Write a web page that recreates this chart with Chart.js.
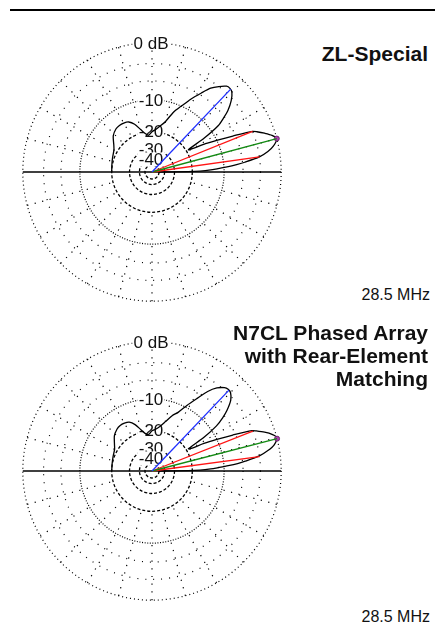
<!DOCTYPE html>
<html lang="en">

<head>
    <meta charset="UTF-8">
    <title>Elevation Patterns - ZL-Special vs N7CL Phased Array</title>
    <style>
        body {
            margin: 0;
            background: #fff;
            font-family: "Liberation Sans", Arial, sans-serif;
            color: #111;
        }

        #page {
            position: relative;
            width: 435px;
            height: 642px;
            overflow: hidden;
        }

        .rule {
            position: absolute;
            left: 10px;
            right: 0;
            top: 9px;
            height: 2px;
            background: #000;
        }

        canvas {
            position: absolute;
            left: 12px;
        }

        .title {
            position: absolute;
            right: 7px;
            font-weight: bold;
            font-size: 21px;
            line-height: 23px;
            text-align: right;
        }

        .freq {
            position: absolute;
            right: 5px;
            font-size: 16px;
            line-height: 16px;
        }
    </style>
</head>

<body>
    <div id="page">
        <div class="rule"></div>
        <canvas id="zlChart" width="280" height="280" style="top:32px"></canvas>
        <div class="title" style="top:42px">ZL-Special</div>
        <div class="freq" style="top:287px">28.5 MHz</div>

        <canvas id="n7clChart" width="280" height="280" style="top:331px"></canvas>
        <div class="title" style="top:321px">N7CL Phased Array<br>with Rear-Element<br>Matching</div>
        <div class="freq" style="top:609px">28.5 MHz</div>
    </div>

    <script src="https://cdn.jsdelivr.net/npm/chart.js"></script>

    <script>
        // elevation angle (deg above horizon) and relative gain (dB)
        const elevAngles = [0, 0.5, 1, 2, 3, 4, 5, 6, 8, 10, 12, 15, 17, 19, 21, 22, 24, 26, 28, 30,
            31.5, 33, 35, 37, 39, 42, 45, 47, 49, 52, 55, 58, 62, 66, 70, 75, 80, 85, 90, 95,
            100, 105, 110, 115, 120, 125, 130, 137, 145, 150, 160, 170, 180];

        const zlSpecialDb = [-50, -22, -17, -13.5, -11.5, -9, -7.2, -5.6, -3, -1.6, -0.7, 0, -0.5, -1.4, -2.4, -3, -6.5, -9.8, -13, -17.5,
            -19, -12.5, -8, -6.3, -4.8, -3.3, -2.3, -2.1, -2.2, -3, -4, -5.6, -7.7, -10, -12, -15.5, -17.5, -19, -20, -21.5,
            -20.5, -18.5, -16, -14.6, -14.2, -14.1, -14.3, -15.3, -17.5, -18.5, -19.3, -19.8, -20];

        const n7clDb = [-50, -22, -17, -13.5, -11.3, -9, -7, -5.5, -3, -1.6, -0.6, 0, -0.5, -1.4, -2.5, -3.1, -6.5, -10, -13.5, -18,
            -19, -12.5, -8.5, -6.5, -5, -3.4, -2.6, -2.5, -2.7, -3.5, -4.9, -7, -9.5, -12, -13.5, -16, -18, -19.3, -20, -21.5,
            -21, -19, -16.5, -15, -14.6, -14.5, -14.8, -15.8, -17.8, -18.8, -19.5, -19.9, -20];

        // cursor lines: high-angle lobe, max gain, -3 dB points
        const markerColors = ['#1f2fff', '#138a13', '#ff1414', '#ff1414'];
        const zlMarkerAngles = [46.5, 15, 22, 8];
        const zlMarkerDb = [-2.1, 0, -3, -3];
        const n7clMarkerAngles = [46.4, 14.5, 21.6, 7.6];
        const n7clMarkerDb = [-2.5, 0, -3, -3];

        // grid (ARRL log scale)
        const ringDb = [0, -3, -6, -10, -20, -30, -40, -50];
        const ringLabelDb = [0, -10, -20, -30, -40];
        const ringLabels = ['0 dB', '-10', '-20', '-30', '-40'];
        const spokeStep = 15;

        // ARRL log scale: radius shrinks to 0.89 every 2 dB
        function arrlRadius(db) {
            return Math.pow(0.89, -Math.max(db, -60) / 2);
        }

        function toXY(angle, db) {
            const r = arrlRadius(db);
            const t = angle * Math.PI / 180;
            return { x: r * Math.cos(t), y: r * Math.sin(t) };
        }

        function ringDash(db) {
            if (db === 0) return [1, 3];
            if (db === -10) return [1, 1.6];
            if (db > -10) return [1, 7];
            return [3, 2];
        }

        const polarGrid = {
            id: 'polarGrid',
            beforeDatasetsDraw(chart) {
                const { ctx, scales: { x, y } } = chart;
                const cx = x.getPixelForValue(0);
                const cy = y.getPixelForValue(0);
                const unit = x.getPixelForValue(1) - cx;
                ctx.save();

                // spokes
                ctx.strokeStyle = '#000';
                ctx.lineWidth = 1.2;
                ctx.setLineDash([1.2, 6.5]);
                const r0 = arrlRadius(-20) * unit;
                for (let a = 0; a < 360; a += spokeStep) {
                    if (a % 180 === 0) continue;
                    const t = a * Math.PI / 180;
                    ctx.beginPath();
                    ctx.moveTo(cx + unit * Math.cos(t), cy - unit * Math.sin(t));
                    ctx.lineTo(cx + r0 * Math.cos(t), cy - r0 * Math.sin(t));
                    ctx.stroke();
                }

                // rings
                ringDb.forEach(db => {
                    ctx.setLineDash(ringDash(db));
                    ctx.lineWidth = db <= -20 ? 1.3 : 1.2;
                    ctx.beginPath();
                    ctx.arc(cx, cy, arrlRadius(db) * unit, 0, Math.PI * 2);
                    ctx.stroke();
                });

                // ground line
                ctx.setLineDash([]);
                ctx.lineWidth = 1.6;
                ctx.beginPath();
                ctx.moveTo(cx - unit, cy);
                ctx.lineTo(cx + unit, cy);
                ctx.stroke();

                // ring labels
                ctx.font = '17px "Liberation Sans", Arial, sans-serif';
                ctx.textAlign = 'center';
                ctx.textBaseline = 'middle';
                ringLabelDb.forEach((db, i) => {
                    const ly = cy - arrlRadius(db) * unit;
                    const w = ctx.measureText(ringLabels[i]).width;
                    ctx.fillStyle = '#fff';
                    ctx.fillRect(cx - 1 - w / 2 - 1, ly - 7, w + 2, 14);
                    ctx.fillStyle = '#111';
                    ctx.fillText(ringLabels[i], cx - 1, ly + 1);
                });
                ctx.restore();
            }
        };

        function makeChart(id, gainDb, markerAngles, markerDb) {
            const datasets = [];

            markerAngles.forEach((a, i) => {
                datasets.push({
                    data: [{ x: 0, y: 0 }, toXY(a, markerDb[i])],
                    showLine: true,
                    borderColor: markerColors[i],
                    borderWidth: 1.3,
                    pointRadius: 0
                });
            });

            // dot at the maximum gain
            datasets.push({
                data: [toXY(markerAngles[1], markerDb[1])],
                pointRadius: 2.5,
                pointBackgroundColor: '#b23cb2',
                pointBorderColor: '#6a2a6a',
                pointBorderWidth: 1
            });

            datasets.push({
                data: elevAngles.map((a, i) => toXY(a, gainDb[i])),
                showLine: true,
                borderColor: '#000',
                borderWidth: 1.3,
                pointRadius: 0,
                tension: 0.25
            });

            return new Chart(document.getElementById(id), {
                type: 'scatter',
                data: { datasets: datasets },
                options: {
                    responsive: false,
                    animation: false,
                    events: [],
                    layout: { padding: 0 },
                    plugins: {
                        legend: { display: false },
                        tooltip: { enabled: false }
                    },
                    scales: {
                        x: { type: 'linear', min: -1.045, max: 1.045, display: false },
                        y: { type: 'linear', min: -1.045, max: 1.045, display: false }
                    }
                },
                plugins: [polarGrid]
            });
        }

        makeChart('zlChart', zlSpecialDb, zlMarkerAngles, zlMarkerDb);
        makeChart('n7clChart', n7clDb, n7clMarkerAngles, n7clMarkerDb);
    </script>
</body>

</html>
